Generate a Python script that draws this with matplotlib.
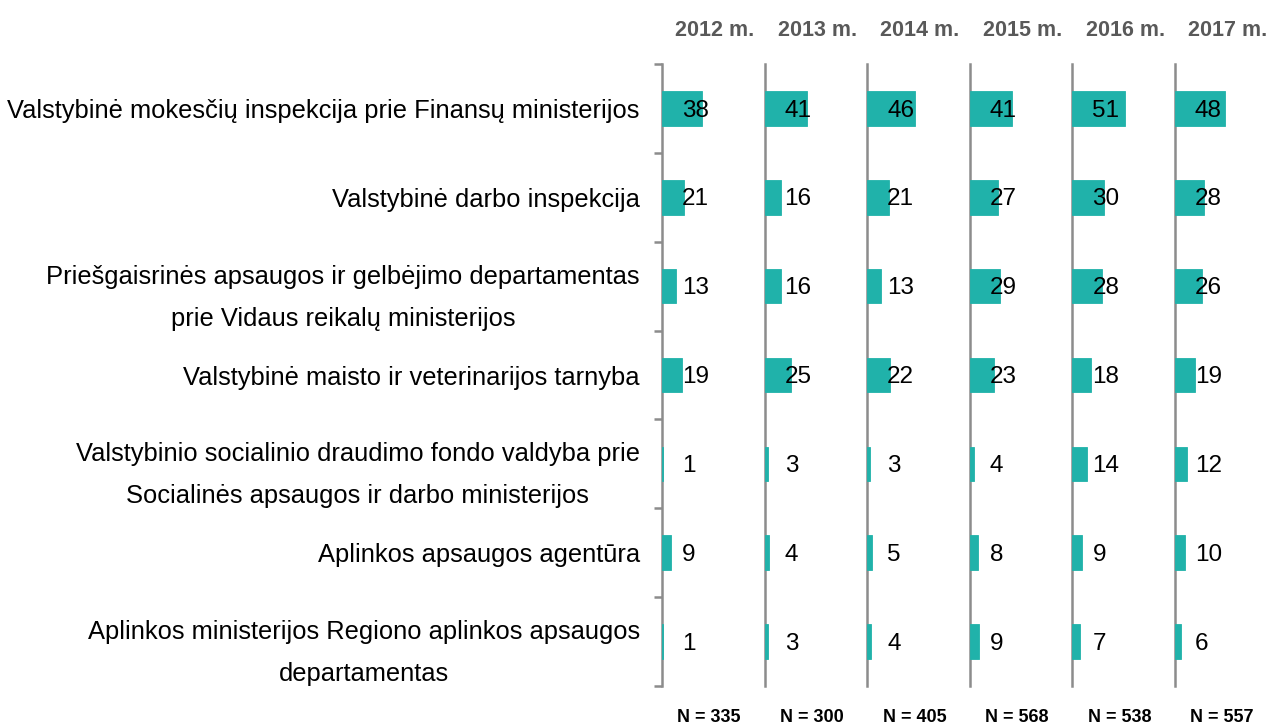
import matplotlib
matplotlib.use("Agg")
import matplotlib.pyplot as plt

plt.rcParams['font.family'] = ['Liberation Sans', 'DejaVu Sans']

categories = [
    "Valstybinė mokesčių inspekcija prie Finansų ministerijos",
    "Valstybinė darbo inspekcija",
    "Priešgaisrinės apsaugos ir gelbėjimo departamentas\nprie Vidaus reikalų ministerijos",
    "Valstybinė maisto ir veterinarijos tarnyba",
    "Valstybinio socialinio draudimo fondo valdyba prie\nSocialinės apsaugos ir darbo ministerijos",
    "Aplinkos apsaugos agentūra",
    "Aplinkos ministerijos Regiono aplinkos apsaugos\ndepartamentas",
]
years = ["2012 m.", "2013 m.", "2014 m.", "2015 m.", "2016 m.", "2017 m."]
sample_sizes = ["N = 335", "N = 300", "N = 405", "N = 568", "N = 538", "N = 557"]

v2012 = [38, 21, 13, 19, 1, 9, 1]
v2013 = [41, 16, 16, 25, 3, 4, 3]
v2014 = [46, 21, 13, 22, 3, 5, 4]
v2015 = [41, 27, 29, 23, 4, 8, 9]
v2016 = [51, 30, 28, 18, 14, 9, 7]
v2017 = [48, 28, 26, 19, 12, 10, 6]
values = [v2012, v2013, v2014, v2015, v2016, v2017]

bar_color = "#20B2AA"
axis_color = "#8C8C8C"

W, H = 1269, 727
fig = plt.figure(figsize=(W / 100, H / 100), dpi=100)

left0 = 662 / W
panel_w = 102.6 / W
bottom = 1 - 686 / H
height = (686 - 64) / H
pos = list(range(len(categories)))

for k, (year, n, vals) in enumerate(zip(years, sample_sizes, values)):
    ax = fig.add_axes([left0 + k * panel_w, bottom, panel_w, height])
    ax.barh(pos, vals, height=0.39, color=bar_color, edgecolor=bar_color,
            linewidth=0.6, zorder=3)
    ax.set_xlim(0, 98.6)
    ax.set_ylim(len(categories) - 0.5, -0.5)
    for side in ["top", "right", "bottom"]:
        ax.spines[side].set_visible(False)
    ax.spines["left"].set_color(axis_color)
    ax.spines["left"].set_linewidth(1.8)
    ax.set_xticks([])

    if k == 0:
        bounds = [p - 0.5 for p in pos] + [len(categories) - 0.5]
        ax.set_yticks(bounds)
        ax.set_yticklabels([])
        ax.tick_params(axis="y", which="major", length=6, width=1.8,
                       color=axis_color)
        ax.set_yticks(pos, categories, minor=True)
        ax.tick_params(axis="y", which="minor", length=0, pad=16,
                       labelsize=18.4)
        for t in ax.get_yticklabels(minor=True):
            t.set_multialignment("center")
            t.set_linespacing(1.95)
    else:
        ax.set_yticks([])

    for i, v in zip(pos, vals):
        ax.annotate(str(v), xy=(0, i), xytext=(14.4, -1.5),
                    textcoords="offset points", ha="left", va="center",
                    fontsize=17.5, color="black", zorder=4)

    ax.annotate(year, xy=(0, 0), xycoords="axes fraction",
                xytext=(38, (686 - 30) * 0.72), textcoords="offset points",
                ha="center", va="center", fontsize=15.5, fontweight="bold",
                color="#595959", annotation_clip=False)

    ax.annotate(n, xy=(0, 0), xycoords="axes fraction",
                xytext=(34, -31 * 0.72), textcoords="offset points",
                ha="center", va="center", fontsize=13, fontweight="bold",
                color="black", annotation_clip=False)

fig.savefig("out.png", dpi=100)
